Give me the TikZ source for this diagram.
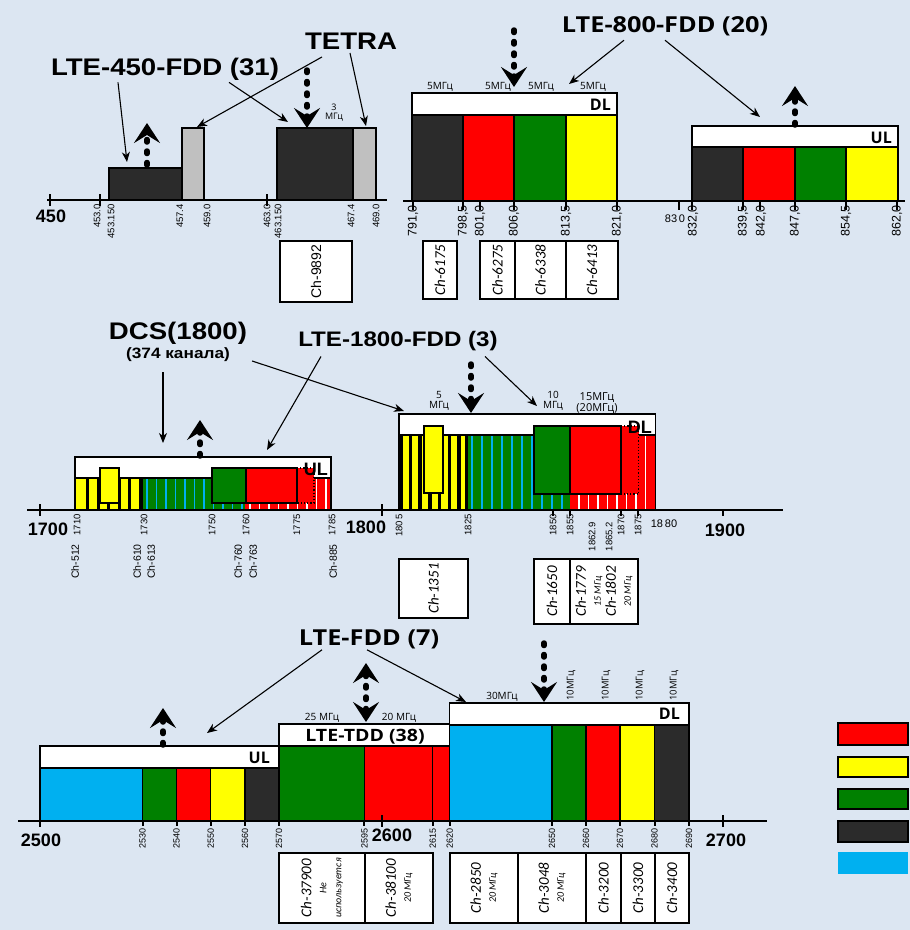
\documentclass[tikz,border=0pt]{standalone}
\usepackage{fontspec}
\usepackage{graphicx}
\setmainfont{Liberation Sans}
\newfontfamily\wideface[FakeStretch=1.15]{Liberation Sans}
\newfontfamily\wideopen[FakeStretch=1.15]{Open Sans}
\newfontfamily\opensans{Open Sans}
\newfontfamily\carlito{Carlito}
\usetikzlibrary{arrows.meta, calc, positioning}

\definecolor{bgpanel}{RGB}{220,230,242}
\definecolor{bandblack}{RGB}{43,43,43}
\definecolor{bandgrey}{RGB}{192,192,192}
\definecolor{bandred}{RGB}{255,0,0}
\definecolor{bandgreen}{RGB}{0,128,0}
\definecolor{bandyellow}{RGB}{255,255,0}
\definecolor{bandcyan}{RGB}{0,176,240}
\newcommand{\fsz}[1]{\fontsize{#1}{#1}\selectfont}

\begin{document}
\begin{tikzpicture}[x=1pt, y=-1pt,
    band/.style={draw=black, line width=1.3pt},
    hdr/.style={draw=black, fill=white, line width=1.3pt},
    dottedcap/.style={draw=black, dotted, line width=1.2pt},
    axisline/.style={line width=2pt},
    legendbox/.style={draw=black, line width=2.5pt},
    bigtitle/.style={inner sep=0pt, font=\wideface\bfseries\fsz{24}},
    optitle/.style={inner sep=0pt, font=\wideopen\bfseries\fsz{22}},
    linklabel/.style={inner sep=0pt, anchor=east, font=\opensans\bfseries\fsz{16}},
    chanlabel/.style={inner sep=0pt, align=center, font=\opensans\fsz{10}},
    ticklab/.style={rotate=90, anchor=east, inner sep=0pt, font=\fsz{9.5}},
    axisnum/.style={inner sep=0pt, font=\bfseries\fsz{18}},
    chbox/.style={draw=black, fill=white, line width=1.5pt, rotate=90, inner sep=0pt, align=center, font=\carlito\itshape\fsz{15}},
    callout/.style={line width=1.1pt, -{Stealth[length=10pt, width=8pt, inset=3pt]}},
    duplex/.style={line width=5.5pt, line cap=round, dash pattern=on 2.5pt off 9pt, -{Stealth[length=20pt, width=26pt, inset=8pt]}},
    duplexboth/.style={line width=5.5pt, line cap=round, dash pattern=on 2.5pt off 9pt, {Stealth[length=20pt, width=26pt, inset=8pt]}-{Stealth[length=20pt, width=26pt, inset=8pt]}},
  ]
  % Background
  \fill[bgpanel] (0,0) rectangle (910,930);
  \useasboundingbox (0,0) rectangle (910,930);

  % ===== 450 MHz =====
  \filldraw[band, fill=bandblack] (109,168) rectangle (182,200);
  \filldraw[band, fill=bandgrey] (182,128) rectangle (204,200);
  \filldraw[band, fill=bandblack] (277,128) rectangle (353,200);
  \filldraw[band, fill=bandgrey] (353,128) rectangle (376,200);
  \draw[axisline] (47,200) -- (387,200);
  \foreach \tx in {50,100,267} \draw[axisline] (\tx,194) -- (\tx,206);
  \node[axisnum] (n450) at (51,216) {450};
  \foreach \tx/\tl [count=\i] in {97/453.0, 111/453.150, 180/457.4, 207/459.0, 267/463.0, 278/463.150, 351/467.4, 376/469.0}
    \node[ticklab] (fa\i) at (\tx,204) {\tl};
  \node[chbox, font=\fsz{14}, minimum width=61, minimum height=72] (ch9892) at (316,271.5) {Ch-9892};

  % Titles 450
  \node[bigtitle] (t450) at (165,69) {LTE-450-FDD (31)};
  \node[bigtitle] (ttetra) at (351,41.5) {TETRA};
  \coordinate (p450ul) at (127,162);
  \coordinate (p450dl) at (288,122);
  \coordinate (ptetraul) at (197,127);
  \coordinate (ptetradl) at (366,126);
  \draw[callout] ([xshift=-47pt, yshift=-2pt]t450.south) -- (p450ul);
  \draw[callout] ([xshift=64pt, yshift=-2pt]t450.south) -- (p450dl);
  \draw[callout] ([xshift=-29pt, yshift=-7pt]ttetra.south) -- (ptetraul);
  \draw[callout] ([xshift=-1pt, yshift=-3pt]ttetra.south) -- (ptetradl);

  % Up / down links 450
  \coordinate (u450a) at (147,165);
  \coordinate (u450b) at (147,123);
  \draw[duplex] (u450a) -- (u450b);
  \coordinate (d450a) at (307,70);
  \coordinate (d450b) at (307,128);
  \draw[duplex] (d450a) -- (d450b);
  \node[chanlabel, font=\opensans\fsz{9}] (w450) at (334,113) {3\\МГц};

  % ===== 800 MHz =====
  % DL
  \filldraw[band, fill=bandblack] (412,115) rectangle (463,201);
  \filldraw[band, fill=bandred] (463,115) rectangle (514,201);
  \filldraw[band, fill=bandgreen] (514,115) rectangle (566,201);
  \filldraw[band, fill=bandyellow] (566,115) rectangle (617,201);
  \filldraw[hdr] (412,93) rectangle (617,115);
  \node[linklabel] (dl800) at (611,104.5) {DL};
  \foreach \tx [count=\i] in {440,498,541,593}
    \node[chanlabel] (w800\i) at (\tx,87) {5МГц};
  % UL
  \filldraw[band, fill=bandblack] (692,147) rectangle (743,201);
  \filldraw[band, fill=bandred] (743,147) rectangle (795,201);
  \filldraw[band, fill=bandgreen] (795,147) rectangle (846,201);
  \filldraw[band, fill=bandyellow] (846,147) rectangle (898,201);
  \filldraw[hdr] (692,126) rectangle (898,147);
  \node[linklabel] (ul800) at (892,137.5) {UL};
  % Axis 800
  \draw[axisline] (403,201) -- (905,201);
  \foreach \tx in {413,463,480,514,566,617,679,692,743,760,795,846,897} \draw[axisline] (\tx,201) -- (\tx,210);
  \foreach \tx/\tl [count=\i] in {413/{791,0}, 463/{798,5}, 480/{801,0}, 514/{806,0}, 566/{813,5}, 617/{821,0}, 693/{832,0}, 743/{839,5}, 761/{842,0}, 795/{847,0}, 846/{854,5}, 897/{862,0}}
    \node[ticklab, font=\fsz{12.5}] (fb\i) at (\tx,205) {\tl};
  \node[inner sep=0pt, font=\fsz{11}] (f830) at (675,219) {83\,0};
  % Channels 800
  \node[chbox, minimum width=58, minimum height=34] (ch6175) at (440,270) {Ch-6175};
  \node[chbox, minimum width=58, minimum height=35] (ch6275) at (497.5,270) {Ch-6275};
  \node[chbox, minimum width=58, minimum height=51] (ch6338) at (540.5,270) {Ch-6338};
  \node[chbox, minimum width=58, minimum height=52] (ch6413) at (592,270) {Ch-6413};
  % Title 800
  \node[optitle] (t800) at (665,26.3) {LTE-800-FDD (20)};
  \coordinate (p800dl) at (569,84);
  \coordinate (p800ul) at (760,117);
  \draw[callout] ([xshift=-41pt, yshift=-4pt]t800.south) -- (p800dl);
  \draw[callout] ([xshift=0pt, yshift=-4pt]t800.south) -- (p800ul);
  \coordinate (d800a) at (514,30);
  \coordinate (d800b) at (514,87);
  \draw[duplex] (d800a) -- (d800b);
  \coordinate (u800a) at (795,125);
  \coordinate (u800b) at (795,86);
  \draw[duplex] (u800a) -- (u800b);

  % ===== 1800 MHz =====
  % UL 1710-1785
  \fill[bandyellow] (75,478) rectangle (143,510);
  \foreach \sx in {86,96.5,...,130} \fill[black] (\sx,478) rectangle ++(3,32);
  \fill[black] (139,478) rectangle (143,510);
  \fill[bandgreen] (143,478) rectangle (245,510);
  \foreach \sx in {147,156.5,...,243} \draw[bandcyan, line width=1.5pt] (\sx,478) -- ++(0,32);
  \fill[bandred] (245,478) rectangle (331,510);
  \foreach \sx in {250,259.5,...,328} \draw[white, line width=1.5pt] (\sx,478) -- ++(0,32);
  \filldraw[hdr] (75,457) rectangle (331,478);
  \draw[band] (75,457) rectangle (331,510);
  \filldraw[band, fill=bandyellow] (100,468) rectangle (119,503);
  \filldraw[band, fill=bandgreen] (212,468) rectangle (246,503);
  \fill[bandred] (297,468) rectangle (314,503);
  \draw[dottedcap] (297,468) -- (314,468) -- (314,503) -- (297,503);
  \filldraw[band, fill=bandred] (246,468) rectangle (297,503);
  \node[linklabel, font=\bfseries\fsz{18}] (ul1800) at (328,469.5) {UL};
  % DL 1805-1880
  \fill[bandyellow] (399,435) rectangle (467.5,510);
  \foreach \sx in {399,408.7,...,460} \fill[black] (\sx,435) rectangle ++(3.5,75);
  \fill[black] (465,435) rectangle (468,510);
  \fill[bandgreen] (467.5,435) rectangle (570,510);
  \foreach \sx in {472,482,...,565} \draw[bandcyan, line width=1.5pt] (\sx,435) -- ++(0,75);
  \fill[bandred] (570,435) rectangle (655.6,510);
  \foreach \sx in {579,588.5,...,653} \draw[white, line width=1.5pt] (\sx,435) -- ++(0,75);
  \filldraw[hdr] (399,414) rectangle (655.6,435);
  \draw[band] (399,414) rectangle (655.6,510);
  \filldraw[band, fill=bandyellow] (424,426) rectangle (443,493);
  \filldraw[band, fill=bandgreen] (534,426) rectangle (570,494);
  \fill[bandred] (621,426) rectangle (638.6,494);
  \draw[dottedcap] (621,426) -- (638.6,426) -- (638.6,494) -- (621,494);
  \filldraw[band, fill=bandred] (570,426) rectangle (621,494);
  \node[linklabel, font=\bfseries\fsz{18}] (dl1800) at (652,427) {DL};
  \node[chanlabel] (w1800a) at (439,401) {5\\МГц};
  \node[chanlabel] (w1800b) at (553,401) {10\\МГц};
  \node[chanlabel, font=\opensans\fsz{11}] (w1800c) at (597,403) {15МГц\\(20МГц)};
  % Axis 1800
  \draw[axisline] (27,510) -- (783,510);
  \foreach \tx in {40,382} \draw[axisline] (\tx,504) -- (\tx,516);
  \foreach \tx in {553,570,621,638,723} \draw[axisline] (\tx,510) -- (\tx,516);
  \node[axisnum] (n1700) at (48,529) {1700};
  \node[axisnum] (n1800) at (366,527) {1800};
  \node[axisnum] (n1900) at (725,530) {1900};
  \foreach \tx/\tl [count=\i] in {77/1710, 144/1730, 212/1750, 246/1760, 297/1775, 332/1785, 399/{180\,5}, 468/1825, 553/1850, 570/1855, 621/1870, 638/1875}
    \node[ticklab] (fc\i) at (\tx,514) {\tl};
  \node[ticklab] (fc13) at (592,522) {1862.9};
  \node[ticklab] (fc14) at (609,522) {1865.2};
  \node[inner sep=0pt, font=\fsz{11}] (f1880) at (664,524) {18\,80};
  \foreach \tx/\tl [count=\i] in {75/Ch-512, 137/Ch-610, 151/Ch-613, 238/Ch-760, 253/Ch-763, 333/Ch-885}
    \node[ticklab, font=\fsz{10.5}] (cc\i) at (\tx,544) {\tl};
  % Channels 1800
  \node[chbox, minimum width=59, minimum height=69] (ch1351) at (433.5,588.5) {Ch-1351};
  \node[chbox, minimum width=65, minimum height=36] (ch1650) at (552,591.5) {Ch-1650};
  \node[chbox, minimum width=65, minimum height=68] (ch1779) at (604,591.5) {Ch-1779\\{\fsz{10}15 МГц}\\Ch-1802\\{\fsz{10}20 МГц}};
  % Titles 1800
  \node[bigtitle] (tdcs) at (178,333) {DCS(1800)};
  \node[inner sep=0pt, font=\wideface\bfseries\fsz{15}] (tdcssub) at (178,355) {(374 канала)};
  \node[bigtitle, font=\wideface\bfseries\fsz{21}] (t1800) at (398,341.5) {LTE-1800-FDD (3)};
  \coordinate (pdcsul) at (163,443);
  \coordinate (pdcsdl) at (404,411);
  \coordinate (p1800ul) at (267,450);
  \coordinate (p1800dl) at (537,406);
  \draw[callout] ([xshift=-15pt, yshift=-10pt]tdcssub.south) -- (pdcsul);
  \draw[callout] ([xshift=22pt, yshift=-6pt]tdcssub.east) -- (pdcsdl);
  \draw[callout] ([xshift=-77pt, yshift=-5pt]t1800.south) -- (p1800ul);
  \draw[callout] ([xshift=87pt, yshift=-5pt]t1800.south) -- (p1800dl);
  \coordinate (u1800a) at (200,456);
  \coordinate (u1800b) at (200,420);
  \draw[duplex] (u1800a) -- (u1800b);
  \coordinate (d1800a) at (471,364);
  \coordinate (d1800b) at (471,413);
  \draw[duplex] (d1800a) -- (d1800b);

  % ===== 2600 MHz =====
  % UL
  \filldraw[band, fill=bandcyan] (40,768) rectangle (142.5,821);
  \filldraw[band, fill=bandgreen] (142.5,768) rectangle (176.6,821);
  \filldraw[band, fill=bandred] (176.6,768) rectangle (210.8,821);
  \filldraw[band, fill=bandyellow] (210.8,768) rectangle (245,821);
  \filldraw[band, fill=bandblack] (245,768) rectangle (279,821);
  \filldraw[hdr] (40,746) rectangle (279,768);
  \node[linklabel] (ul2600) at (270,758) {UL};
  % TDD
  \filldraw[band, fill=bandgreen] (279,746) rectangle (364.4,821);
  \filldraw[band, fill=bandred] (364.4,746) rectangle (432.7,821);
  \filldraw[band, fill=bandred] (432.7,746) rectangle (449.8,821);
  \filldraw[hdr] (279,724) rectangle (449.8,746);
  \node[optitle, font=\wideopen\bfseries\fsz{17}] (ttdd) at (365,737) {LTE-TDD (38)};
  \node[chanlabel] (w2600a) at (322,718) {25 МГц};
  \node[chanlabel] (w2600b) at (399,718) {20 МГц};
  % DL
  \filldraw[band, fill=bandcyan] (449.8,725) rectangle (552,821);
  \filldraw[band, fill=bandgreen] (552,725) rectangle (586,821);
  \filldraw[band, fill=bandred] (586,725) rectangle (620,821);
  \filldraw[band, fill=bandyellow] (620,725) rectangle (654.5,821);
  \filldraw[band, fill=bandblack] (654.5,725) rectangle (689,821);
  \filldraw[hdr] (449.8,703) rectangle (689,725);
  \node[linklabel] (dl2600) at (680,714) {DL};
  \node[chanlabel] (w2600c) at (502,697) {30МГц};
  \foreach \tx [count=\i] in {571,606,640,674}
    \node[chanlabel, rotate=90, anchor=west, font=\opensans\fsz{9.5}] (w2600d\i) at (\tx,701) {10МГц};
  % Axis 2600
  \draw[axisline] (18,821) -- (767,821);
  \foreach \tx in {40,381.5,723} \draw[axisline] (\tx,815) -- (\tx,827);
  \foreach \tx/\tl [count=\i] in {142.5/2530, 176.6/2540, 210.8/2550, 245/2560, 279/2570, 364.4/2595, 432.7/2615, 449.8/2620, 552/2650, 586/2660, 620/2670, 654.5/2680, 689/2690}
    {\draw[axisline] (\tx,821) -- ++(0,5);
     \node[ticklab, font=\fsz{9}] (fd\i) at (\tx,828) {\tl};}
  \node[axisnum] (n2500) at (41,840) {2500};
  \node[axisnum] (n2600) at (392,835) {2600};
  \node[axisnum] (n2700) at (726,840) {2700};
  % Channels 2600
  \node[chbox, minimum width=70, minimum height=86] (ch37900) at (322,888) {Ch-37900\\{\fsz{10}Не}\\{\fsz{10}используется}};
  \node[chbox, minimum width=70, minimum height=68] (ch38100) at (399,888) {Ch-38100\\{\fsz{10}20 МГц}};
  \node[chbox, minimum width=70, minimum height=68] (ch2850) at (484,888) {Ch-2850\\{\fsz{10}20 МГц}};
  \node[chbox, minimum width=70, minimum height=68] (ch3048) at (552,888) {Ch-3048\\{\fsz{10}20 МГц}};
  \node[chbox, minimum width=70, minimum height=35] (ch3200) at (603.5,888) {Ch-3200};
  \node[chbox, minimum width=70, minimum height=34] (ch3300) at (638,888) {Ch-3300};
  \node[chbox, minimum width=70, minimum height=34] (ch3400) at (672,888) {Ch-3400};
  % Title 2600
  \node[optitle] (tfdd7) at (369,639) {LTE-FDD (7)};
  \coordinate (pfddul) at (207,733);
  \coordinate (pfdddl) at (466,702);
  \draw[callout] ([xshift=-47pt, yshift=-1pt]tfdd7.south) -- (pfddul);
  \draw[callout] ([xshift=-2pt, yshift=-1pt]tfdd7.south) -- (pfdddl);
  \coordinate (u2600a) at (163,745);
  \coordinate (u2600b) at (163,708);
  \draw[duplex] (u2600a) -- (u2600b);
  \coordinate (t2600a) at (366,663);
  \coordinate (t2600b) at (366,722);
  \draw[duplexboth] (t2600a) -- (t2600b);
  \coordinate (d2600a) at (544,643);
  \coordinate (d2600b) at (544,702);
  \draw[duplex] (d2600a) -- (d2600b);

  % Legend
  \filldraw[legendbox, fill=bandred] (838,723) rectangle (908,745);
  \filldraw[legendbox, fill=bandyellow] (838,757) rectangle (908,777);
  \filldraw[legendbox, fill=bandgreen] (838,789) rectangle (908,809);
  \filldraw[legendbox, fill=bandblack] (838,821) rectangle (908,842);
  \fill[bandcyan] (838,852) rectangle (908,874);
\end{tikzpicture}
\end{document}
